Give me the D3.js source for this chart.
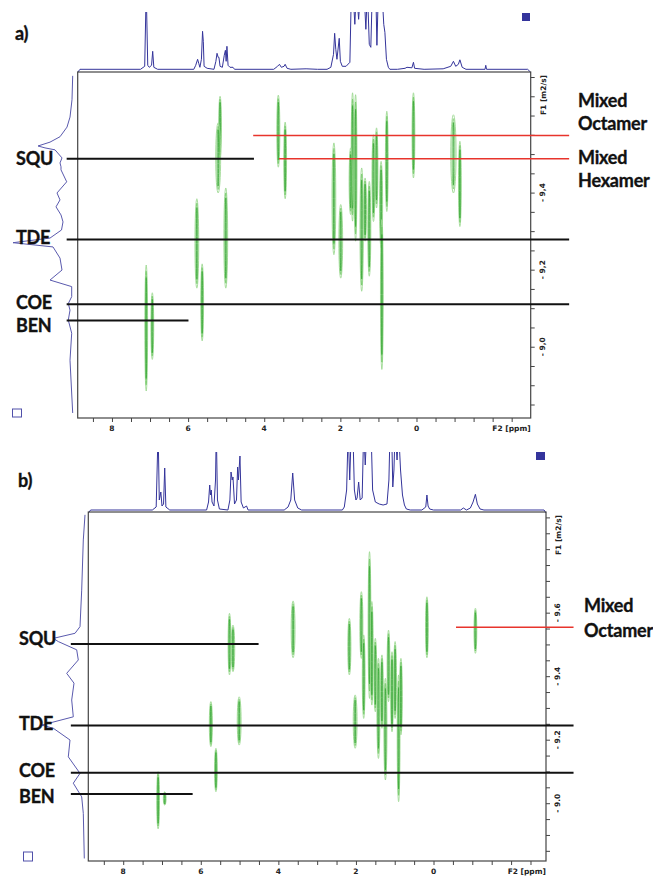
<!DOCTYPE html>
<html>
<head>
<meta charset="utf-8">
<script src="https://cdn.jsdelivr.net/npm/d3@7/dist/d3.min.js"></script>
<style>
  html, body { margin: 0; padding: 0; background: #ffffff; }
  svg { display: block; }
</style>
</head>
<body>
<svg id="fig" width="653" height="876"></svg>
<script>
// ---------------- data ----------------
// F2 (chemical shift, ppm) tick labels
const f2Labels = [8, 6, 4, 2, 0];
// F1 (log diffusion coefficient, m2/s) tick labels
const f1LabelsA = [-9.4, -9.2, -9.0];
const f1LabelsB = [-9.6, -9.4, -9.2, -9.0];

// Reference lines: logD level and ppm extent [from, to]
const speciesA = [
  { name: "SQU", logD: -9.488, from: 9.19, to: 4.27 },
  { name: "TDE", logD: -9.278, from: 9.19, to: -4.01 },
  { name: "COE", logD: -9.110, from: 9.19, to: -4.01 },
  { name: "BEN", logD: -9.068, from: 9.19, to: 5.99 }
];
const mixedA = [
  { name: "Mixed Octamer", logD: -9.548, from: 4.29, to: -4.01 },
  { name: "Mixed Hexamer", logD: -9.488, from: 3.61, to: -4.01 }
];
const speciesB = [
  { name: "SQU", logD: -9.501, from: 9.35, to: 4.51 },
  { name: "TDE", logD: -9.245, from: 9.35, to: -3.61 },
  { name: "COE", logD: -9.096, from: 9.35, to: -3.61 },
  { name: "BEN", logD: -9.029, from: 9.35, to: 6.21 }
];
const mixedB = [
  { name: "Mixed Octamer", logD: -9.554, from: -0.58, to: -3.61 }
];

// DOSY cross peaks: [ppm, logD top, logD bottom, line width (ppm)]
const peaksA = [
  [5.16, -9.650, -9.490, 0.04], [5.21, -9.581, -9.399, 0.13],
  [3.63, -9.653, -9.466, 0.08], [3.45, -9.583, -9.384, 0.07],
  [5.77, -9.384, -9.152, 0.10], [5.63, -9.215, -9.015, 0.06],
  [5.01, -9.412, -9.152, 0.10],
  [7.10, -9.212, -8.885, 0.07], [6.94, -9.140, -8.967, 0.05],
  [2.17, -9.529, -9.239, 0.10], [1.99, -9.369, -9.178, 0.10],
  [1.68, -9.659, -9.326, 0.06], [1.60, -9.654, -9.274, 0.07],
  [1.73, -9.516, -9.343, 0.08], [1.44, -9.464, -9.144, 0.09],
  [1.35, -9.438, -9.274, 0.06], [1.24, -9.429, -9.183, 0.08],
  [1.13, -9.550, -9.325, 0.08], [1.05, -9.568, -9.360, 0.07],
  [0.93, -9.481, -9.256, 0.08], [0.91, -9.330, -8.941, 0.07],
  [0.78, -9.611, -9.351, 0.05], [0.08, -9.659, -9.438, 0.05],
  [-0.97, -9.602, -9.399, 0.14], [-1.14, -9.533, -9.312, 0.07]
];
const peaksB = [
  [5.26, -9.598, -9.404, 0.04], [5.17, -9.561, -9.414, 0.09],
  [3.62, -9.637, -9.458, 0.10],
  [5.74, -9.320, -9.178, 0.08], [5.61, -9.173, -9.036, 0.07],
  [5.01, -9.335, -9.183, 0.10],
  [7.10, -9.099, -8.919, 0.05], [6.93, -9.036, -8.994, 0.03],
  [2.17, -9.582, -9.404, 0.08], [2.02, -9.341, -9.173, 0.10],
  [1.86, -9.666, -9.456, 0.08], [1.80, -9.530, -9.267, 0.07],
  [1.65, -9.792, -9.330, 0.07], [1.59, -9.635, -9.309, 0.07],
  [1.50, -9.519, -9.288, 0.07], [1.42, -9.456, -9.141, 0.08],
  [1.33, -9.467, -9.236, 0.07], [1.24, -9.393, -9.073, 0.08],
  [1.16, -9.545, -9.320, 0.07], [1.07, -9.477, -9.225, 0.07],
  [0.99, -9.509, -9.267, 0.07], [0.90, -9.404, -9.005, 0.07],
  [0.84, -9.456, -9.215, 0.06], [0.17, -9.650, -9.458, 0.04],
  [-1.08, -9.614, -9.472, 0.06]
];

// 1H projection (F2): [ppm, intensity]; values above ~58 run off the top
const specA = [
  [8.90, -3], [8.84, 0], [7.25, 0], [7.14, 3], [7.10, 80], [7.06, 4], [7.02, 2], [6.96, 4], [6.93, 18], [6.90, 2], [6.80, 0],
  [5.85, 0], [5.80, 4], [5.75, 10], [5.72, 6], [5.69, 2], [5.65, 10], [5.62, 38], [5.60, 28], [5.58, 3], [5.50, 1],
  [5.32, 0], [5.27, 8], [5.24, 16], [5.21, 12], [5.19, 12], [5.16, 3], [5.10, 2], [5.05, 14], [5.02, 19], [5.00, 8],
  [4.98, 23], [4.95, 4], [4.90, 2], [4.82, 2], [4.78, 0],
  [3.75, 0], [3.65, 3], [3.60, 5], [3.55, 2], [3.48, 3], [3.45, 5], [3.40, 1], [3.30, 0], [2.90, 0.5], [2.60, 0],
  [2.35, 0], [2.25, 2], [2.18, 15], [2.15, 36], [2.12, 20], [2.09, 10], [2.03, 31], [2.00, 8], [1.95, 3], [1.85, 3],
  [1.75, 7], [1.71, 80], [1.67, 80], [1.62, 45], [1.58, 80], [1.52, 50], [1.47, 80], [1.42, 60], [1.38, 80],
  [1.33, 40], [1.29, 80], [1.24, 25], [1.20, 22], [1.16, 80], [1.12, 80], [1.07, 80], [1.04, 24], [1.00, 80],
  [0.95, 80], [0.91, 80], [0.86, 45], [0.83, 37], [0.79, 10], [0.74, 2], [0.70, 0],
  [0.50, 0], [0.30, 1], [0.25, 2], [0.12, 1.5], [0.08, 7], [0.05, 1], [-0.20, 0], [-0.70, 0.5], [-0.90, 3],
  [-0.97, 8], [-1.03, 3], [-1.10, 5], [-1.14, 9.5], [-1.20, 2], [-1.30, 0], [-1.80, 0], [-1.82, 4], [-1.84, 0],
  [-2.92, 0], [-3.00, -3]
];
const specB = [
  [8.90, -3], [8.84, 0], [7.25, 0], [7.15, 3], [7.10, 80], [7.07, 10], [7.03, 18], [7.00, 4], [6.96, 6], [6.93, 42], [6.90, 3], [6.80, 0],
  [5.85, 0], [5.80, 8], [5.77, 25], [5.75, 15], [5.73, 20], [5.71, 8], [5.66, 4], [5.62, 30], [5.60, 80], [5.57, 10], [5.52, 1],
  [5.30, 0], [5.25, 10], [5.22, 38], [5.19, 30], [5.17, 33], [5.13, 6], [5.08, 10], [5.05, 43], [5.03, 30], [4.99, 54],
  [4.96, 8], [4.90, 2], [4.82, 4], [4.78, 0],
  [3.85, 0], [3.75, 3], [3.68, 10], [3.63, 37], [3.58, 10], [3.50, 2], [3.40, 0],
  [2.35, 0], [2.30, 3], [2.24, 20], [2.20, 80], [2.16, 30], [2.12, 80], [2.08, 80], [2.04, 20], [2.00, 10], [1.97, 12],
  [1.93, 28], [1.89, 10], [1.84, 12], [1.80, 80], [1.76, 45], [1.72, 80], [1.66, 80], [1.61, 80], [1.57, 20], [1.50, 8],
  [1.40, 6], [1.30, 5], [1.20, 6], [1.15, 30], [1.12, 80], [1.08, 80], [1.05, 23], [1.02, 40], [0.99, 80], [0.94, 50],
  [0.90, 80], [0.85, 40], [0.80, 15], [0.75, 5], [0.70, 1], [0.60, 0],
  [0.30, 0], [0.20, 3], [0.17, 15], [0.14, 4], [0.10, 1], [0.00, 0], [-0.70, 0], [-0.77, 2], [-0.85, 0], [-0.95, 2],
  [-1.02, 8], [-1.08, 15.7], [-1.13, 6], [-1.20, 1], [-1.30, 0], [-2.85, 0], [-2.90, -3]
];

// Diffusion projection (F1): [logD, intensity]
const projA = [
  [-9.703, 0.3], [-9.641, 1], [-9.596, 3], [-9.570, 6], [-9.545, 13], [-9.531, 23], [-9.521, 35], [-9.516, 28],
  [-9.511, 18], [-9.490, 11], [-9.477, 13], [-9.467, 12], [-9.459, 12], [-9.428, 6.3], [-9.399, 16], [-9.381, 13],
  [-9.363, 17], [-9.342, 12], [-9.324, 10], [-9.303, 11.5], [-9.282, 23], [-9.270, 60], [-9.259, 20], [-9.230, 13],
  [-9.199, 11], [-9.173, 23], [-9.156, 1.3], [-9.130, 1.3], [-9.112, 4.7], [-9.095, 3], [-9.069, 4.7], [-9.035, 1.3],
  [-8.965, 3], [-8.828, 0.3]
];
const projB = [
  [-9.908, 0], [-9.829, 1.7], [-9.671, 3.3], [-9.556, 5], [-9.535, 10], [-9.519, 31.7], [-9.509, 26.7], [-9.483, 8.3],
  [-9.451, 6.7], [-9.409, 18.3], [-9.378, 11], [-9.325, 13.3], [-9.272, 11.7], [-9.246, 43.3], [-9.236, 31.7],
  [-9.199, 15], [-9.146, 16.7], [-9.094, 5], [-9.063, 11.7], [-9.020, 3.3], [-8.968, 1.7], [-8.826, 0.7]
];

// ---------------- layout & style ----------------
const style = {
  frame: "#444444",
  spectrum: "#34349a",
  projection: "#5a5aae",
  contourOuter: "#9ed993",
  contourMid: "#6cc660",
  contourInner: "#3aa838",
  speciesLine: "#111111",
  mixedLine: "#e8342c",
  label: "#111111",
  labelFont: "Lato, 'Open Sans', sans-serif",
  tickFont: "'DejaVu Sans', sans-serif"
};

const panels = [
  {
    tag: "a)", tagPos: [15, 40],
    frame: { left: 77.7, right: 530.7, top: 72, bottom: 418 },
    f2Domain: [8.9, -3.0], f1Domain: [-9.713, -8.815],
    f1Labels: f1LabelsA, decimal: ",",
    specBase: 69.3, specClip: 12, projBase: 73,
    species: speciesA, mixed: mixedA, peaks: peaksA, spec: specA, proj: projA,
    speciesLabels: [["SQU", 16, 165], ["TDE", 16, 243.5], ["COE", 16, 308.5], ["BEN", 16, 331.5]],
    mixedLabels: [["Mixed", 578, 107], ["Octamer", 578, 130], ["Mixed", 578, 163.5], ["Hexamer", 578, 186.7]],
    fillBox: [522, 13, 8, 8], openBox: [12.5, 409, 9, 8]
  },
  {
    tag: "b)", tagPos: [18, 487],
    frame: { left: 88.3, right: 546, top: 512, bottom: 861 },
    f2Domain: [8.9, -2.9], f1Domain: [-9.917, -8.818],
    f1Labels: f1LabelsB, decimal: ".",
    specBase: 510, specClip: 452, projBase: 85,
    species: speciesB, mixed: mixedB, peaks: peaksB, spec: specB, proj: projB,
    speciesLabels: [["SQU", 19, 645], ["TDE", 19, 730], ["COE", 19, 777.3], ["BEN", 19, 803.3]],
    mixedLabels: [["Mixed", 584, 612], ["Octamer", 584, 636.5]],
    fillBox: [536, 452, 9, 8], openBox: [23.5, 852, 9, 9]
  }
];

// ---------------- drawing ----------------
const svg = d3.select("#fig");

panels.forEach((p, i) => {
  const g = svg.append("g");
  const fr = p.frame;
  const x = d3.scaleLinear().domain(p.f2Domain).range([fr.left, fr.right]);
  const y = d3.scaleLinear().domain(p.f1Domain).range([fr.top, fr.bottom]);
  const specY = d3.scaleLinear().domain([0, 60]).range([p.specBase, p.specBase - 60]);
  const projX = d3.scaleLinear().domain([0, 60]).range([p.projBase, p.projBase - 60]);

  // clip region for the 1D projection on top
  const clipId = "specclip" + i;
  svg.append("defs").append("clipPath").attr("id", clipId)
    .append("rect")
    .attr("x", fr.left - 4).attr("y", p.specClip)
    .attr("width", fr.right - fr.left + 8).attr("height", p.specBase - p.specClip + 8);

  // top projection (1H spectrum)
  g.append("path")
    .datum(p.spec)
    .attr("clip-path", `url(#${clipId})`)
    .attr("fill", "none")
    .attr("stroke", style.spectrum)
    .attr("stroke-width", 1)
    .attr("stroke-linejoin", "round")
    .attr("d", d3.line().x(d => x(d[0])).y(d => specY(d[1])));

  // left projection (diffusion dimension)
  g.append("path")
    .datum(p.proj)
    .attr("fill", "none")
    .attr("stroke", style.projection)
    .attr("stroke-width", 1)
    .attr("d", d3.line().x(d => projX(d[1])).y(d => y(d[0])));

  // frame
  g.append("rect")
    .attr("x", fr.left).attr("y", fr.top)
    .attr("width", fr.right - fr.left).attr("height", fr.bottom - fr.top)
    .attr("fill", "none").attr("stroke", style.frame).attr("stroke-width", 1.2);

  // F2 axis (bottom): minor ticks each 0.5 ppm, labels each 2 ppm
  const f2Ticks = d3.range(8.5, -2.99, -0.5);
  const xAxis = d3.axisBottom(x).tickValues(f2Ticks).tickSize(4).tickFormat("");
  const gx = g.append("g").attr("transform", `translate(0,${fr.bottom})`).call(xAxis);
  gx.select(".domain").remove();
  gx.selectAll(".tick line").attr("stroke", style.frame).attr("stroke-width", 1);
  g.selectAll(null).data(f2Labels).enter().append("text")
    .attr("x", d => x(d)).attr("y", fr.bottom + 13)
    .attr("text-anchor", "middle")
    .attr("font-family", style.tickFont).attr("font-weight", "bold").attr("font-size", 7.5)
    .attr("fill", "#222")
    .text(d => d3.format("d")(d));
  g.append("text")
    .attr("x", fr.right).attr("y", fr.bottom + 13)
    .attr("text-anchor", "end")
    .attr("font-family", style.tickFont).attr("font-weight", "bold").attr("font-size", 7.5)
    .attr("fill", "#222")
    .text("F2 [ppm]");

  // F1 axis (right): ticks each 0.05
  const [d0, d1] = p.f1Domain;
  const f1Ticks = d3.range(Math.ceil(d0 / 0.05) * 0.05, d1, 0.05);
  const yAxis = d3.axisRight(y).tickValues(f1Ticks).tickSize(4).tickFormat("");
  const gy = g.append("g").attr("transform", `translate(${fr.right},0)`).call(yAxis);
  gy.select(".domain").remove();
  gy.selectAll(".tick line").attr("stroke", style.frame).attr("stroke-width", 1);
  g.selectAll(null).data(p.f1Labels).enter().append("text")
    .attr("transform", d => `translate(${fr.right + 14},${y(d)}) rotate(-90)`)
    .attr("text-anchor", "middle")
    .attr("font-family", style.tickFont).attr("font-weight", "bold").attr("font-size", 7.5)
    .attr("fill", "#222")
    .text(d => "- " + Math.abs(d).toFixed(1).replace(".", p.decimal));
  g.append("text")
    .attr("transform", `translate(${fr.right + 15},${fr.top + 23}) rotate(-90)`)
    .attr("text-anchor", "middle")
    .attr("font-family", style.tickFont).attr("font-weight", "bold").attr("font-size", 7.5)
    .attr("fill", "#222")
    .text("F1 [m2/s]");

  // DOSY cross peaks as nested contour rings (outlines only)
  const rings = [
    { k: 1.0, v: 1.0, c: style.contourOuter, w: 0.9 },
    { k: 0.55, v: 0.9, c: style.contourMid, w: 0.7 },
    { k: 0.12, v: 0.8, c: style.contourInner, w: 0.8 }
  ];
  const pk = g.append("g");
  p.peaks.forEach(d => {
    const cx = x(d[0]);
    const yt = y(d[1]), yb = y(d[2]);
    const rx = Math.max(1.4, Math.abs(x(d[0] + d[3] / 2) - x(d[0] - d[3] / 2)) / 2);
    const ry = (yb - yt) / 2;
    rings.forEach(r => {
      pk.append("ellipse")
        .attr("cx", cx).attr("cy", (yt + yb) / 2)
        .attr("rx", Math.max(0.4, rx * r.k)).attr("ry", ry * r.v)
        .attr("fill", "none").attr("stroke", r.c).attr("stroke-width", r.w);
    });
  });

  // species reference lines
  g.selectAll(null).data(p.species).enter().append("line")
    .attr("x1", d => x(d.from)).attr("x2", d => x(d.to))
    .attr("y1", d => y(d.logD)).attr("y2", d => y(d.logD))
    .attr("stroke", style.speciesLine).attr("stroke-width", 2);
  g.selectAll(null).data(p.mixed).enter().append("line")
    .attr("x1", d => x(d.from)).attr("x2", d => x(d.to))
    .attr("y1", d => y(d.logD)).attr("y2", d => y(d.logD))
    .attr("stroke", style.mixedLine).attr("stroke-width", 1.6);

  // labels
  const lab = (t, lx, ly) => g.append("text")
    .attr("x", lx).attr("y", ly)
    .attr("font-family", style.labelFont).attr("font-weight", 700).attr("font-size", 18)
    .attr("letter-spacing", -0.2)
    .attr("fill", style.label)
    .attr("stroke", style.label).attr("stroke-width", 0.35)
    .text(t);
  lab(p.tag, p.tagPos[0], p.tagPos[1]);
  p.speciesLabels.forEach(s => lab(s[0], s[1], s[2]));
  p.mixedLabels.forEach(s => lab(s[0], s[1], s[2]));

  // small window icons
  g.append("rect")
    .attr("x", p.fillBox[0]).attr("y", p.fillBox[1]).attr("width", p.fillBox[2]).attr("height", p.fillBox[3])
    .attr("fill", "#34349c");
  g.append("rect")
    .attr("x", p.openBox[0]).attr("y", p.openBox[1]).attr("width", p.openBox[2]).attr("height", p.openBox[3])
    .attr("fill", "none").attr("stroke", "#5050aa").attr("stroke-width", 1);
});
</script>
</body>
</html>
